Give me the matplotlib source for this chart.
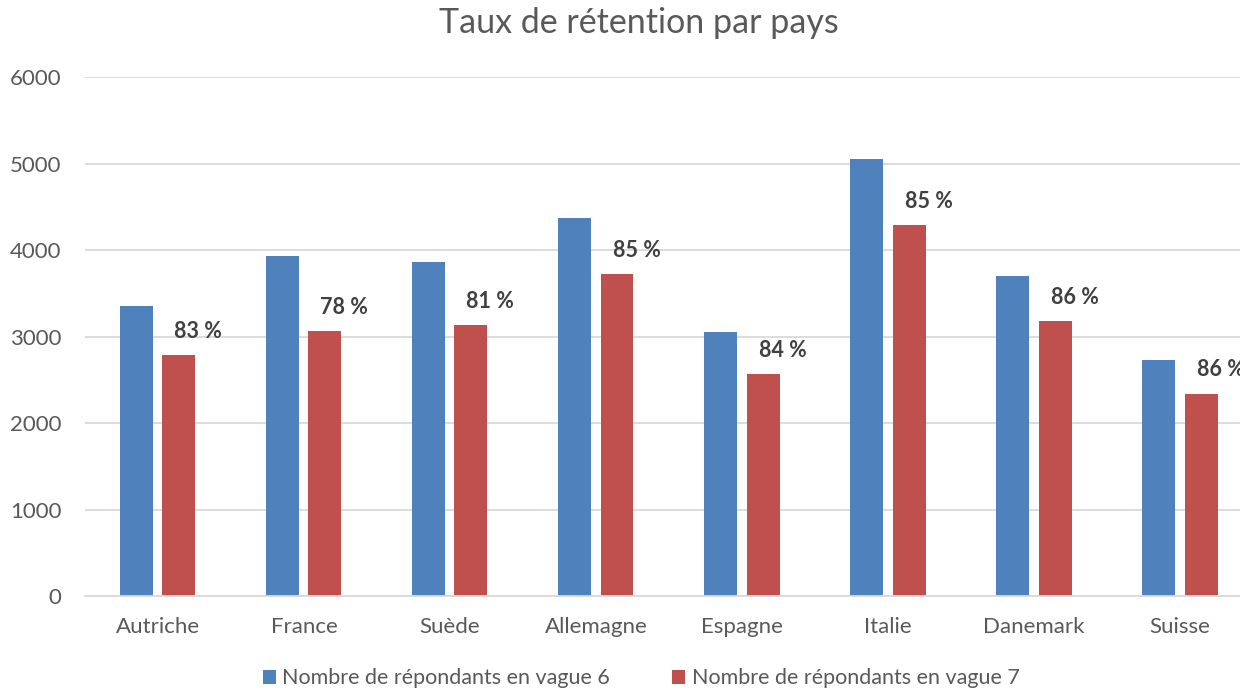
import matplotlib.pyplot as plt
import numpy as np

pays = ["Autriche", "France", "Suède", "Allemagne", "Espagne", "Italie", "Danemark", "Suisse"]
vague6 = [3355, 3930, 3860, 4370, 3055, 5050, 3700, 2730]
vague7 = [2785, 3065, 3135, 3720, 2565, 4290, 3180, 2340]
taux = ["83 %", "78 %", "81 %", "85 %", "84 %", "85 %", "86 %", "86 %"]

bleu = "#4F81BD"
rouge = "#C0504D"
gris = "#595959"

plt.rcParams['font.family'] = ['Lato', 'DejaVu Sans']

fig = plt.figure(figsize=(12.4, 6.9), dpi=100)
ax = fig.add_axes([0.0685, 0.1362, 0.9420, 0.7522])

x = np.arange(len(pays))
larg = 0.226
b1 = ax.bar(x - 0.144, vague6, larg, color=bleu, label="Nombre de répondants en vague 6")
b2 = ax.bar(x + 0.144, vague7, larg, color=rouge, label="Nombre de répondants en vague 7")

for rect, t in zip(b2, taux):
    ax.annotate(t, (rect.get_x() + rect.get_width() / 2, rect.get_height()),
                xytext=(14, 17), textcoords="offset points", ha="center", va="center",
                fontsize=15.5, fontweight="bold", color="#404040", annotation_clip=False)

ax.set_xlim(-0.5, len(pays) - 0.5)
ax.set_ylim(0, 6000)
ax.set_yticks(range(0, 6001, 1000))
ax.set_xticks(x)
ax.set_xticklabels(pays)
ax.tick_params(axis="both", length=0, labelsize=16, colors=gris)
ax.tick_params(axis="x", pad=15)
ax.tick_params(axis="y", pad=17)
ax.grid(axis="y", color="#D9D9D9", linewidth=1.3)
ax.set_axisbelow(True)
for s in ["top", "right", "left"]:
    ax.spines[s].set_visible(False)
ax.spines["bottom"].set_color("#D9D9D9")
ax.spines["bottom"].set_linewidth(1.3)

fig.suptitle("Taux de rétention par pays", x=0.515, y=0.99, fontsize=24.5, color=gris)

fig.legend(loc="center", bbox_to_anchor=(0.517, 0.017), ncol=2, frameon=False,
           fontsize=15.5, labelcolor=gris, handlelength=0.6, handleheight=0.6,
           handletextpad=0.3, columnspacing=2.9)

fig.savefig("out.png", dpi=100)
